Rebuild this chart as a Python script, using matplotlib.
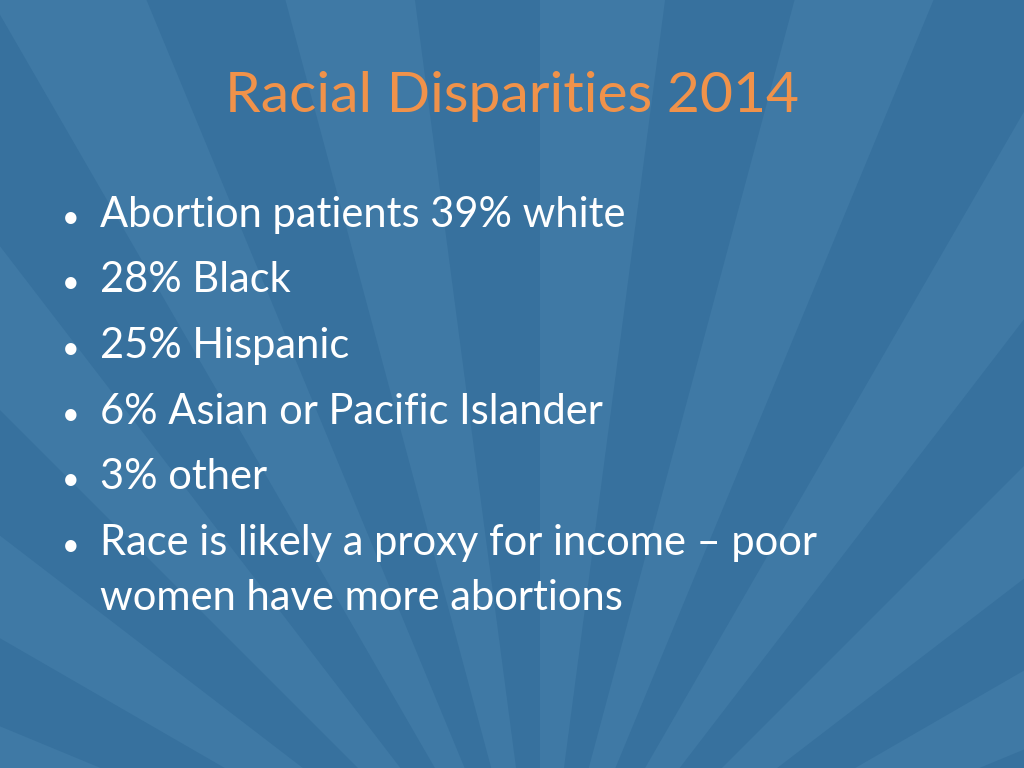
import numpy as np
import matplotlib.pyplot as plt
from matplotlib.patches import Polygon

title = "Racial Disparities 2014"
bullets = [
    ["Abortion patients 39% white"],
    ["28% Black"],
    ["25% Hispanic"],
    ["6% Asian or Pacific Islander"],
    ["3% other"],
    ["Race is likely a proxy for income \u2013 poor", "women have more abortions"],
]
bullet_y = [227, 292, 358, 424, 489, 555]
line_gap = 55

fig = plt.figure(figsize=(10.24, 7.68), dpi=100)
ax = fig.add_axes([0, 0, 1, 1])
ax.set_xlim(0, 1024)
ax.set_ylim(768, 0)
ax.axis("off")
fig.patch.set_facecolor("#37719e")
ax.set_facecolor("#37719e")

# soft sunburst rays from a point below the slide
cx, cy = 540, 950
edges = np.linspace(-180, 0, 25)
for i in range(0, len(edges) - 1, 2):
    a0, a1 = np.radians(edges[i]), np.radians(edges[i + 1])
    r = 3000
    poly = Polygon([(cx, cy), (cx + r * np.cos(a0), cy + r * np.sin(a0)),
                    (cx + r * np.cos(a1), cy + r * np.sin(a1))],
                   closed=True, facecolor="#3f79a5", edgecolor="none", zorder=0)
    ax.add_patch(poly)

font = "Lato"
ax.text(512, 97, title, color="#f0924a", fontsize=41, family=font,
        ha="center", va="center", zorder=2)
for y, lines in zip(bullet_y, bullets):
    ax.text(62, y, "\u2022", color="white", fontsize=22, family=font,
            ha="left", va="baseline", zorder=2)
    for k, t in enumerate(lines):
        ax.text(100, y + k * line_gap, t, color="white", fontsize=30, family=font,
                ha="left", va="baseline", zorder=2)

fig.savefig("out.png", dpi=100, facecolor=fig.get_facecolor())
